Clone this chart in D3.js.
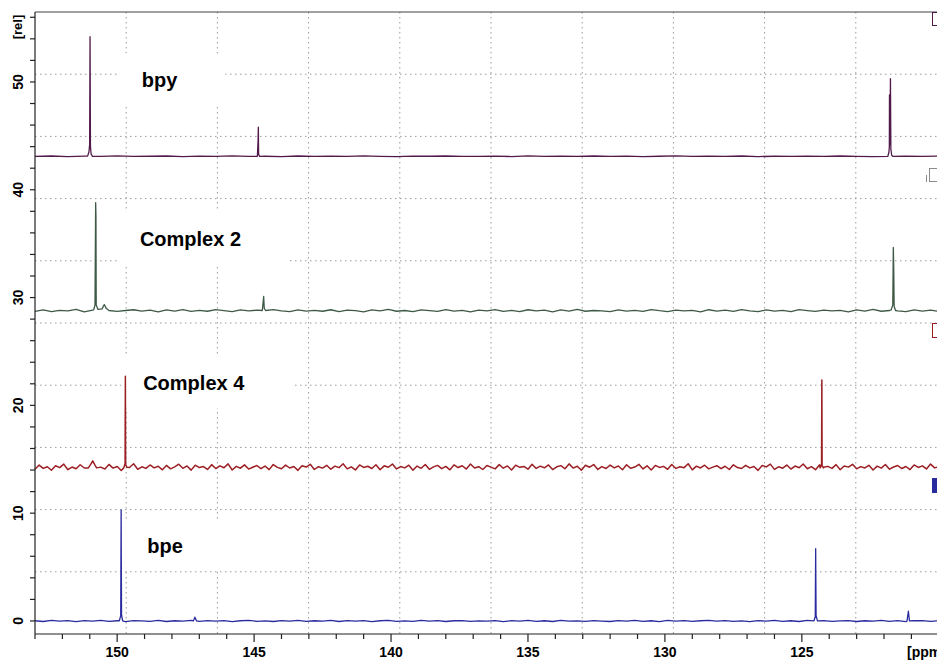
<!DOCTYPE html>
<html>
<head>
<meta charset="utf-8">
<script src="https://cdn.jsdelivr.net/npm/d3@7"></script>
<style>
  body { margin: 0; background: #fff; }
  svg  { display: block; font-family: Arial, "Liberation Sans", sans-serif; }
</style>
</head>
<body>
<div id="chart"></div>
<script>

// ---- data ----
const xTicksMajor = [150, 145, 140, 135, 130, 125];
const yTicksMajor = [0, 10, 20, 30, 40, 50];
const seriesNames  = ["bpy", "Complex 2", "Complex 4", "bpe"];
const seriesColors = ["#521a4a", "#3e5a47", "#9c1f24", "#2b2ba0"];

// label anchor in data coords [ppm, rel]
const labelAt = [[149.1, 49.5], [149.17, 34.8], [149.05, 21.4], [148.9, 6.3]];

// baseline samples (ppm 153 downwards, fixed step)
const baseStep = [0.6, 0.3, 0.15, 0.3];
const bpyBase = [
  43.10,43.13,43.08,43.12,43.10,43.14,43.09,43.11,43.13,43.08,43.12,43.10,43.14,43.09,
  43.11,43.08,43.13,43.10,43.12,43.09,43.14,43.10,43.08,43.12,43.11,43.13,43.09,43.10,
  43.12,43.08,43.14,43.10,43.11,43.09,43.13,43.10,43.12,43.08,43.11,43.14,43.09,43.12,
  43.10,43.13,43.08,43.11,43.10,43.12,43.09,43.13,43.10,43.08,43.12,43.11,43.10,43.12
];
const cx2Base = [
  28.72,28.86,28.70,28.82,28.76,28.90,28.68,28.84,28.78,28.92,28.71,28.80,28.87,28.74,
  28.83,28.67,28.85,28.75,28.89,28.72,28.81,28.73,28.88,28.79,28.69,28.85,28.76,28.83,
  28.71,28.89,28.77,28.69,28.86,28.75,28.81,28.73,28.87,28.70,28.83,28.78,28.68,28.85,
  28.76,28.90,28.73,28.80,28.69,28.86,28.78,28.71,28.88,28.75,28.82,28.67,28.84,28.77,
  28.89,28.72,28.81,28.70,28.87,28.76,28.83,28.68,28.85,28.74,28.90,28.73,28.80,28.77,
  28.69,28.86,28.75,28.82,28.71,28.88,28.78,28.70,28.84,28.76,28.81,28.68,28.87,28.74,
  28.83,28.72,28.89,28.77,28.69,28.85,28.75,28.82,28.70,28.88,28.79,28.71,28.84,28.76,
  28.81,28.68,28.86,28.74,28.90,28.73,28.80,28.77,28.69,28.85,28.75,28.83,28.72,28.79
];
const cx4Base = [
  14.08,14.46,14.15,14.31,13.98,14.40,14.22,14.55,14.03,14.28,14.12,14.49,14.19,14.36,
  14.01,14.44,14.27,14.10,14.52,14.18,14.33,13.96,14.41,14.24,14.58,14.07,14.30,14.15,
  14.47,14.20,14.35,14.02,14.43,14.11,14.29,14.54,14.16,14.38,13.99,14.45,14.23,14.32,
  14.06,14.50,14.14,14.39,14.21,14.57,14.00,14.34,14.17,14.48,14.09,14.26,14.42,14.13,
  14.37,14.04,14.51,14.25,14.12,14.46,14.19,14.33,13.97,14.40,14.28,14.53,14.05,14.31,
  14.18,14.44,14.08,14.36,14.22,14.59,14.11,14.30,14.01,14.47,14.24,14.35,14.14,14.49,
  14.03,14.39,14.26,14.55,14.10,14.32,14.20,14.45,13.98,14.37,14.16,14.52,14.07,14.29,
  14.43,14.13,14.34,14.02,14.48,14.23,14.40,14.09,14.56,14.19,14.31,14.05,14.42,14.27,
  14.11,14.50,14.17,14.38,14.00,14.45,14.25,14.33,14.08,14.54,14.15,14.36,14.21,14.47,
  14.04,14.30,14.41,14.12,14.57,14.18,14.35,13.99,14.44,14.26,14.51,14.06,14.32,14.14,
  14.46,14.20,14.37,14.03,14.49,14.16,14.28,14.53,14.10,14.39,14.01,14.43,14.24,14.34,
  14.07,14.52,14.15,14.31,14.22,14.58,14.02,14.36,14.19,14.45,14.11,14.27,14.40,14.13,
  14.35,14.05,14.48,14.23,14.14,14.44,14.20,14.33,13.97,14.42,14.29,14.55,14.06,14.30,
  14.17,14.46,14.09,14.37,14.21,14.56,14.12,14.31,14.03,14.49,14.25,14.34,14.15,14.50,
  14.02,14.38,14.27,14.53,14.11,14.32,14.19,14.44,14.00,14.36,14.18,14.51,14.08,14.28,
  14.42,14.14,14.33,14.04,14.47,14.24,14.39,14.10,14.55,14.20,14.30,14.06,14.41,14.26
];
const bpeBase = [
  0.02,-0.05,0.06,-0.02,0.04,-0.06,0.03,-0.01,0.05,-0.04,0.02,-0.06,0.04,0.00,
  -0.03,0.05,-0.05,0.02,-0.02,0.06,-0.04,0.03,-0.01,0.04,-0.06,0.02,0.05,-0.03,
  0.01,-0.05,0.04,-0.02,0.06,-0.04,0.02,-0.01,0.05,-0.05,0.03,-0.02,0.04,-0.06,
  0.02,0.05,-0.03,0.01,-0.04,0.06,-0.02,0.03,-0.05,0.02,0.04,-0.03,0.01,-0.02,
  0.04,-0.06,0.03,-0.01,0.05,-0.03,0.02,-0.05,0.06,-0.02,0.01,-0.04,0.03,-0.01,
  -0.05,0.04,-0.02,0.06,-0.03,0.02,-0.06,0.05,-0.01,0.03,-0.04,0.02,0.05,-0.02,
  0.03,-0.04,0.01,-0.06,0.04,-0.02,0.05,-0.03,0.02,-0.05,0.06,-0.01,0.03,-0.04,
  0.01,0.04,-0.05,0.02,-0.02,0.05,-0.04,0.03,-0.06,0.02,0.04,-0.03,0.01,-0.01
];

// peaks: groups of [ppm, rel]
const bpyPeaks = [
  [[151.08,43.12],[151.03,43.5],[151.005,44.2],[150.99,54.2],[150.975,44.0],[150.95,43.3],[150.90,43.1]],
  [[144.88,43.1],[144.855,44.6],[144.845,45.8],[144.835,43.3],[144.80,43.1]],
  [[121.86,43.1],[121.82,43.5],[121.805,44.0],[121.80,48.8],[121.785,44.2],[121.765,50.3],[121.75,43.8],[121.72,43.2],[121.68,43.1]]
];
const cx2Peaks = [
  [[150.86,28.85],[150.81,29.3],[150.785,38.8],[150.775,37.7],[150.765,29.3],[150.70,28.9],[150.55,28.95],[150.47,29.35],[150.40,29.0],[150.30,28.8]],
  [[144.70,28.8],[144.65,30.1],[144.63,29.0],[144.58,28.8]],
  [[121.74,28.85],[121.68,29.3],[121.66,34.65],[121.645,32.7],[121.63,29.2],[121.58,28.8]]
];
const cx4Peaks = [
  [[151.05,14.2],[150.95,14.6],[150.89,14.85],[150.82,14.5],[150.75,14.2]],
  [[149.76,14.2],[149.71,14.6],[149.70,22.7],[149.69,14.5],[149.64,14.25]],
  [[124.33,14.2],[124.28,14.5],[124.27,22.35],[124.26,14.4],[124.21,14.2]]
];
const bpePeaks = [
  [[149.92,0.02],[149.87,0.5],[149.855,10.3],[149.85,6.3],[149.84,0.6],[149.80,0.0]],
  [[147.22,0.0],[147.16,0.35],[147.10,0.0]],
  [[124.56,0.0],[124.51,0.4],[124.495,6.7],[124.49,4.3],[124.48,0.5],[124.43,0.0]],
  [[121.16,0.0],[121.11,0.9],[121.07,0.0]]
];

const bases = [bpyBase, cx2Base, cx4Base, bpeBase];
const peaks = [bpyPeaks, cx2Peaks, cx4Peaks, bpePeaks];

// ---- layout ----
const W = 937, H = 660;
const m = { t: 12, l: 35 };
const plotW = 912, plotH = 622;

const svg = d3.select('#chart').append('svg')
  .attr('width', W).attr('height', H);

const x = d3.scaleLinear().domain([153, 119.7]).range([m.l, m.l + plotW]);
const y = d3.scaleLinear().domain([-1.21, 56.49]).range([m.t + plotH, m.t]);

// grid (10 x 10 dotted)
const grid = svg.append('g').attr('stroke', '#9a9a9a')
  .attr('stroke-dasharray', '1.5,3.5').attr('stroke-width', 1);
d3.range(1, 10).forEach(i => {
  const gx = m.l + plotW * i / 10, gy = m.t + plotH * i / 10;
  grid.append('line').attr('x1', gx).attr('x2', gx).attr('y1', m.t).attr('y2', m.t + plotH);
  grid.append('line').attr('x1', m.l).attr('x2', m.l + plotW).attr('y1', gy).attr('y2', gy);
});

// white boxes behind labels (below the spectra), text on top
const boxG = svg.append('g');
const specG = svg.append('g');
const labelG = svg.append('g');
seriesNames.forEach((name, i) => {
  const lx = x(labelAt[i][0]), ly = y(labelAt[i][1]);
  const t = labelG.append('text').attr('x', lx).attr('y', ly)
    .attr('font-size', 20).attr('font-weight', 'bold').attr('fill', '#000').text(name);
  const w = t.node().getComputedTextLength();
  boxG.append('rect').attr('x', lx - 22).attr('y', ly - 34)
    .attr('width', w + 70).attr('height', 52).attr('fill', '#fff');
});

// spectra
const line = d3.line().x(d => x(d[0])).y(d => y(d[1]));
bases.forEach((base, i) => {
  const groups = peaks[i];
  let pts = base.map((v, k) => [153 - k * baseStep[i], v])
    .filter(p => !groups.some(g => p[0] <= g[0][0] && p[0] >= g[g.length - 1][0]));
  groups.forEach(g => pts = pts.concat(g));
  pts.sort((a, b) => b[0] - a[0]);
  specG.append('path').datum(pts)
    .attr('fill', 'none')
    .attr('stroke', seriesColors[i])
    .attr('stroke-width', i === 2 ? 1.5 : 1.3)
    .attr('stroke-linejoin', 'round')
    .attr('d', line);
});

// axes
const axisG = svg.append('g').attr('stroke', '#222').attr('stroke-width', 1.2);
axisG.append('line').attr('x1', m.l).attr('x2', m.l).attr('y1', m.t).attr('y2', m.t + plotH);
axisG.append('line').attr('x1', m.l).attr('x2', W).attr('y1', m.t + plotH).attr('y2', m.t + plotH);
axisG.append('line').attr('x1', m.l).attr('x2', W).attr('y1', m.t).attr('y2', m.t)
  .attr('stroke', '#444');

// y ticks every 2
d3.range(0, 57, 2).forEach(v => {
  axisG.append('line').attr('x1', m.l - 5).attr('x2', m.l).attr('y1', y(v)).attr('y2', y(v));
});
yTicksMajor.forEach(v => {
  svg.append('text')
    .attr('transform', `translate(23,${y(v)}) rotate(-90)`)
    .attr('text-anchor', 'middle')
    .attr('font-size', 14).attr('font-weight', 'bold').text(v);
});
svg.append('text')
  .attr('transform', `translate(22,27) rotate(-90)`)
  .attr('text-anchor', 'middle')
  .attr('font-size', 13).attr('font-weight', 'bold').text('[rel]');

// x ticks every 1 ppm
d3.range(153, 119, -1).forEach(v => {
  const major = xTicksMajor.includes(v);
  axisG.append('line').attr('x1', x(v)).attr('x2', x(v))
    .attr('y1', m.t + plotH).attr('y2', m.t + plotH + (major ? 8 : 5));
});
xTicksMajor.forEach(v => {
  svg.append('text').attr('x', x(v)).attr('y', 657)
    .attr('text-anchor', 'middle')
    .attr('font-size', 14).attr('font-weight', 'bold').text(v);
});
svg.append('text').attr('x', 907).attr('y', 657)
  .attr('font-size', 14).attr('font-weight', 'bold').text('[ppm]');

// right-edge colour markers
const mk = svg.append('g');
mk.append('rect').attr('x', 932.5).attr('y', 12.5).attr('width', 10).attr('height', 13)
  .attr('fill', '#fff').attr('stroke', seriesColors[0]);
mk.append('rect').attr('x', 929.5).attr('y', 168.5).attr('width', 12).attr('height', 13)
  .attr('fill', '#fff').attr('stroke', '#8a8a8a');
mk.append('line').attr('x1', 926.5).attr('x2', 926.5).attr('y1', 175).attr('y2', 182)
  .attr('stroke', '#8a8a8a');
mk.append('rect').attr('x', 932.5).attr('y', 323.5).attr('width', 10).attr('height', 14)
  .attr('fill', '#fff').attr('stroke', seriesColors[2]);
mk.append('rect').attr('x', 932).attr('y', 478).attr('width', 10).attr('height', 15)
  .attr('fill', seriesColors[3]);
</script>
</body>
</html>
